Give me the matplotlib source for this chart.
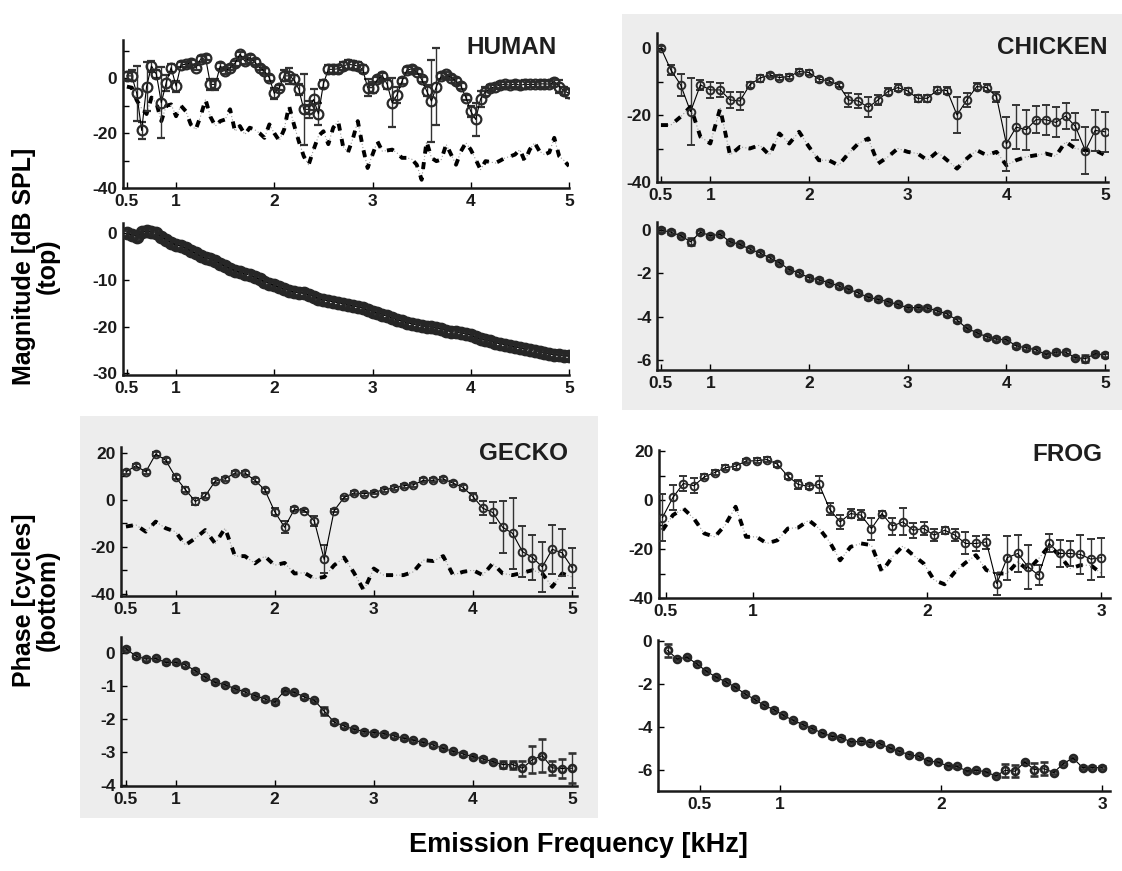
import numpy as np
import matplotlib
matplotlib.use("Agg")
import matplotlib.pyplot as plt
from matplotlib.patches import Rectangle

plt.rcParams['font.family'] = ['Liberation Sans', 'DejaVu Sans']
plt.rcParams['font.weight'] = 'bold'

# ---- HUMAN (0.5-5 kHz, 0.05 kHz steps) ----
human_f = np.linspace(0.5, 5.0, 91)
human_mag = [0.9, 0.9, -5.5, -19.0, -3.0, 4.5, 1.5, -8.9, -1.6, 3.9,
             -2.8, 5.0, 5.1, 5.7, 3.9, 7.0, 7.6, -2.2, -2.2, 4.5,
             2.7, 3.9, 5.5, 8.8, 6.3, 7.6, 6.0, 3.9, 2.7, 0.2,
             -5.5, -3.4, 0.9, 0.9, -0.4, -4.0, -11.3, -11.3, -7.7, -13.0,
             -2.0, 3.3, 3.3, 3.5, 4.5, 5.1, 4.9, 4.5, 3.3, -3.4,
             -3.4, -0.4, 0.9, -2.2, -8.9, -6.0, -1.0, 3.0, 3.5, 2.5,
             -0.4, -4.5, -8.3, -3.0, 0.9, 1.5, 0.3, -1.0, -2.8, -7.0,
             -12.0, -15.0, -7.5, -4.8, -3.6, -3.0, -2.4, -2.2, -2.5, -2.0,
             -2.5, -2.2, -2.2, -2.2, -2.0, -2.0, -2.1, -1.2, -3.0, -4.5,
             -5.5]
human_err = [1.5, 2, 10, 3, 9, 2, 1.5, 13, 3, 1.5,
             2, 1, 1, 1, 1, 1, 1, 2, 2, 1,
             1, 1, 1, 1, 1, 1, 1, 1, 1, 1,
             2, 1, 2, 3, 1.5, 2, 13, 3, 4, 4,
             1.5, 1.5, 1.5, 1.5, 1.5, 1.5, 1.5, 1.5, 1.5, 3,
             2, 1, 1, 1.5, 9, 3, 1, 1, 1, 1,
             1, 2, 15, 14, 1, 1, 1, 1, 1, 1,
             2, 6, 3, 1.5, 1, 1, 1, 1, 1, 1,
             1.5, 1.5, 1, 1, 1, 1, 1, 1, 2.5, 1.5,
             1.5]
human_noise = [-3, -3.4, -8, -11, -13, -7, -9, -15.6, -10, -9.5,
               -13.8, -10, -12, -16.8, -18.7, -13.8, -7.7, -14, -17.4, -15.6,
               -15, -11.3, -19.3, -17.4, -20.5, -18, -18.7, -20, -21.7, -16.8,
               -20, -22.7, -18.7, -10, -16.8, -23, -28.4, -31.5, -26, -21,
               -19.3, -24, -18, -15.6, -24.8, -27, -22, -15.6, -25, -32.7,
               -27.8, -23, -26.6, -26.3, -26, -27.2, -29, -29, -29.5, -31.5,
               -37, -23, -29, -30.2, -29.6, -24.1, -27.8, -31.5, -26.6, -23.5,
               -26, -29.6, -33.3, -30.2, -30.5, -30.9, -30, -29, -28.5, -27.8,
               -26, -30.2, -26, -23.5, -26.6, -27.8, -27, -21.7, -28.4, -30,
               -32]
human_phase = [0.0, -0.4, -0.7, 0.2, 0.4, 0.2, 0.0, -0.7, -1.4, -2.0,
               -2.5, -2.8, -3.2, -3.8, -4.3, -4.9, -5.4, -5.6, -5.9, -6.5,
               -7.1, -7.6, -8.0, -8.4, -8.7, -9.0, -9.4, -9.9, -10.4, -10.8,
               -11.2, -11.6, -12.0, -12.3, -12.6, -12.8, -12.9, -13.2, -13.6, -14.0,
               -14.3, -14.5, -14.7, -14.9, -15.1, -15.3, -15.6, -15.8, -16.1, -16.5,
               -16.8, -17.1, -17.5, -17.8, -18.2, -18.6, -18.9, -19.2, -19.4, -19.7,
               -19.9, -20.0, -20.1, -20.4, -20.6, -20.9, -21.1, -21.2, -21.4, -21.6,
               -21.9, -22.3, -22.7, -23.0, -23.2, -23.5, -23.7, -23.9, -24.1, -24.4,
               -24.6, -24.9, -25.1, -25.3, -25.5, -25.7, -25.9, -26.1, -26.2, -26.3,
               -26.4]
human_phase_err = [0.6] * 91

# ---- CHICKEN (0.5-5 kHz, 0.1 kHz steps) ----
chicken_f = np.linspace(0.5, 5.0, 46)
chicken_mag = [0, -6.5, -11, -19, -11, -12.5, -12.5, -15.5, -15.8, -11,
               -9, -8, -8.8, -8.5, -7, -7.3, -9.3, -9.8, -11, -15.5,
               -15.8, -17.7, -15.5, -13, -11.8, -12.8, -15, -15, -12.5, -12.7,
               -20, -15.5, -11.5, -11.8, -14.5, -28.6, -23.6, -24.4, -21.4, -21.4,
               -22.2, -20.3, -23.4, -30.6, -24.6, -25]
chicken_err = [0.5, 1.5, 3.2, 10, 1.5, 2.5, 2, 2.5, 2.8, 1,
               1, 0.7, 0.7, 0.7, 0.7, 0.7, 0.7, 0.7, 0.7, 2,
               2, 3, 1.5, 1, 1, 1, 1, 1, 1, 1,
               5.3, 2, 1, 1, 1.5, 8, 6.5, 6, 4, 4.5,
               4.5, 4, 4, 7, 6, 6]
chicken_noise = [-23, -23, -20.5, -17.5, -26.5, -28.5, -18, -32, -29.5, -30,
                 -29, -32, -25.5, -28.5, -25, -29.5, -33.5, -33.5, -35, -31.5,
                 -28.5, -27, -34.5, -32.5, -30, -31, -31.5, -33.5, -31, -33.5,
                 -36, -33, -30.5, -32, -31, -35, -33.5, -32.5, -32, -31.5,
                 -32.3, -28, -30, -30.5, -30.5, -32]
chicken_phase = [0.0, -0.1, -0.26, -0.54, -0.1, -0.26, -0.2, -0.54, -0.66, -0.88,
                 -1.05, -1.28, -1.5, -1.82, -1.98, -2.2, -2.3, -2.42, -2.58, -2.73,
                 -2.9, -3.1, -3.2, -3.3, -3.43, -3.58, -3.57, -3.6, -3.73, -3.87,
                 -4.15, -4.53, -4.73, -4.92, -5.03, -5.05, -5.34, -5.43, -5.52, -5.73,
                 -5.63, -5.63, -5.88, -5.93, -5.7, -5.75]
chicken_phase_err = [0.08, 0.08, 0.08, 0.15, 0.08, 0.08, 0.08, 0.08, 0.08, 0.08,
                     0.08, 0.08, 0.08, 0.08, 0.08, 0.08, 0.08, 0.08, 0.08, 0.08,
                     0.08, 0.08, 0.08, 0.08, 0.08, 0.08, 0.08, 0.08, 0.08, 0.08,
                     0.08, 0.08, 0.08, 0.08, 0.08, 0.08, 0.08, 0.08, 0.08, 0.08,
                     0.08, 0.08, 0.08, 0.15, 0.08, 0.08]

# ---- GECKO (0.5-5 kHz, 0.1 kHz steps) ----
gecko_f = np.linspace(0.5, 5.0, 46)
gecko_mag = [11.9, 14.5, 11.9, 19.5, 16.9, 9.7, 4.3, -0.7, 1.7, 7.9,
             9, 11.4, 11.4, 8.3, 4.3, -5, -11.7, -4, -4.6, -9,
             -25.4, -4.6, 1, 2.9, 2.6, 3.1, 4.3, 5, 6, 6.4,
             8.3, 8.3, 8.9, 7.1, 5.3, 1.4, -3.6, -5.4, -11.7, -14.3,
             -22.1, -24.6, -28.6, -21.1, -22.6, -28.9]
gecko_err = [1, 0.8, 0.8, 0.8, 0.8, 0.8, 1, 1.5, 1, 0.8,
             0.8, 0.8, 0.8, 0.8, 0.8, 1.5, 2.5, 0.8, 0.8, 2,
             6, 0.8, 0.8, 0.8, 0.8, 0.8, 0.8, 0.8, 0.8, 0.8,
             0.8, 0.8, 0.8, 0.8, 1, 1.5, 2.9, 4.6, 11, 15,
             11, 9.5, 10.5, 10.5, 10, 8.5]
gecko_noise = [-11.4, -10.7, -13.6, -9.3, -12.1, -13.6, -19.3, -16.4, -12.9, -18.6,
               -12.1, -24, -24, -27.1, -24, -27.9, -26.9, -31.4, -31.1, -33.6,
               -32.9, -27.9, -24.6, -31.1, -38.6, -29.3, -32.1, -32.1, -32.1, -30.7,
               -25.7, -26.1, -24, -32.1, -30.7, -30, -32.1, -27.1, -31.4, -32.1,
               -31.1, -30, -31.4, -37.1, -31.4, -32.9]
gecko_phase = [0.15, -0.08, -0.17, -0.15, -0.27, -0.27, -0.35, -0.52, -0.72, -0.88,
               -0.95, -1.07, -1.17, -1.28, -1.38, -1.48, -1.13, -1.18, -1.32, -1.42,
               -1.75, -2.08, -2.2, -2.3, -2.37, -2.4, -2.43, -2.5, -2.57, -2.63,
               -2.7, -2.78, -2.88, -2.97, -3.05, -3.13, -3.2, -3.28, -3.37, -3.37,
               -3.48, -3.22, -3.1, -3.47, -3.49, -3.48]
gecko_phase_err = [0.05, 0.05, 0.05, 0.05, 0.05, 0.05, 0.05, 0.05, 0.05, 0.05,
                   0.05, 0.05, 0.05, 0.05, 0.05, 0.05, 0.05, 0.05, 0.05, 0.05,
                   0.13, 0.05, 0.05, 0.05, 0.05, 0.05, 0.05, 0.05, 0.05, 0.05,
                   0.05, 0.05, 0.05, 0.05, 0.05, 0.05, 0.05, 0.05, 0.1, 0.12,
                   0.23, 0.42, 0.5, 0.22, 0.3, 0.45]

# ---- FROG (0.06 kHz steps) ----
frog_f = np.linspace(0.48, 3.0, 43)
frog_mag = [-7.1, 1.1, 6.8, 5.9, 9.5, 11.3, 13.2, 13.9, 16, 16.1,
            16.6, 14.7, 9.8, 6.4, 5.7, 6.4, -3.7, -8.9, -5.5, -6.1,
            -11.6, -5.5, -10.6, -8.9, -12.3, -11.6, -14.3, -12.3, -14.3, -17.7,
            -17.7, -17.1, -34.1, -23.5, -21.8, -27.3, -30.7, -17.7, -21.8, -21.8,
            -22.2, -24.1, -23.5]
frog_err = [9.5, 5, 3, 3, 1, 1, 1, 1, 1, 1,
            1, 1, 1, 2, 1, 3.5, 2.5, 3, 2, 2,
            4.5, 1, 3.5, 5.5, 3, 2.5, 2.5, 1.5, 2.5, 4.5,
            3, 3, 4.5, 9, 7.5, 9, 4, 3.7, 5.5, 5,
            8, 8.4, 8]
frog_noise = [-12.3, -6.1, -3.4, -7.5, -13.6, -15, -10.2, -2.7, -15, -15,
              -17.7, -16.4, -11.6, -11.2, -8.2, -11.6, -17.1, -24.6, -19.1, -17.7,
              -18.4, -29.3, -23.2, -18.8, -22.5, -25.9, -32.7, -34.4, -29.3, -25.6,
              -22.5, -28.6, -30, -30, -25.2, -28.6, -23.9, -18.8, -22.5, -28,
              -26.6, -26.6, -30]
frog_phase_f = np.linspace(0.3, 3.0, 46)
frog_phase = [-0.44, -0.84, -0.75, -1.06, -1.4, -1.68, -1.9, -2.15, -2.46, -2.72,
              -3.0, -3.2, -3.47, -3.7, -3.9, -4.09, -4.29, -4.45, -4.51, -4.71,
              -4.68, -4.74, -4.79, -4.99, -5.15, -5.3, -5.38, -5.6, -5.65, -5.83,
              -5.85, -6.07, -6.03, -6.11, -6.3, -6.03, -6.08, -5.65, -6.0, -5.96,
              -6.14, -5.72, -5.46, -5.91, -5.91, -5.91]
frog_phase_err = [0.3, 0.06, 0.06, 0.06, 0.06, 0.06, 0.06, 0.06, 0.06, 0.06,
                  0.06, 0.06, 0.06, 0.06, 0.06, 0.06, 0.06, 0.06, 0.06, 0.06,
                  0.06, 0.06, 0.06, 0.06, 0.06, 0.06, 0.06, 0.06, 0.06, 0.06,
                  0.06, 0.06, 0.06, 0.06, 0.06, 0.3, 0.28, 0.06, 0.3, 0.3,
                  0.06, 0.06, 0.06, 0.06, 0.06, 0.06]

W, H = 1122, 871
fig = plt.figure(figsize=(W / 100, H / 100), dpi=100)

# grey backdrop behind chicken and gecko panels
for (x0, y0, x1, y1) in [(622, 14, 1122, 410), (80, 416, 598, 818)]:
    fig.add_artist(Rectangle((x0 / W, 1 - y1 / H), (x1 - x0) / W, (y1 - y0) / H,
                             transform=fig.transFigure, color='#ededed', zorder=-5, lw=0))


def add_ax(l, t, r, b):
    ax = fig.add_axes([l / W, 1 - b / H, (r - l) / W, (b - t) / H])
    ax.set_facecolor('none')
    for s in ['top', 'right']:
        ax.spines[s].set_visible(False)
    for s in ['left', 'bottom']:
        ax.spines[s].set_linewidth(1.8)
        ax.spines[s].set_color('#1a1a1a')
    ax.tick_params(direction='in', length=4, width=1, labelsize=12.5, pad=4,
                   labelcolor='#1a1a1a')
    return ax


def style(ax, xlim, xticks, ylim, yticks, ylabs):
    ax.set_xlim(*xlim)
    ax.set_ylim(*ylim)
    ax.set_xticks(xticks, [('%g' % t) for t in xticks], fontweight='bold')
    ax.set_yticks(yticks, ylabs, fontweight='bold')


def mag_plot(ax, f, m, e, nf, ms=5.5, mew=1.4):
    ax.plot(f, nf, color='#9a9a9a', lw=0.8, ls=(0, (1, 2)), zorder=2)
    ax.plot(f, nf, color='k', lw=2.8, ls=(0, (1.8, 2.2)), zorder=2)
    ax.errorbar(f, m, yerr=e, fmt='-o', color='k', lw=0.8, ms=ms, mfc='none',
                mec='#2a2a2a', mew=mew, ecolor='#333333', elinewidth=1,
                capsize=3, capthick=1, zorder=3)


def ph_plot(ax, f, p, e, ms=5, mew=1.9):
    ax.errorbar(f, p, yerr=e, fmt='-o', color='k', lw=0.8, ms=ms, mfc='none',
                mec='#262626', mew=mew, ecolor='#333333', elinewidth=1,
                capsize=3, capthick=1, zorder=3)


xt5 = [0.5, 1, 2, 3, 4, 5]
xt3 = [0.5, 1, 2, 3]
mag_ticks = [-40, -30, -20, -10, 0, 10, 20]
mag_labs = ['-40', '', '-20', '', '0', '', '20']

# HUMAN
ax = add_ax(123, 40, 569, 188)
mag_plot(ax, human_f, human_mag, human_err, human_noise, ms=7, mew=1.6)
style(ax, (0.46, 5.0), xt5, (-40, 14), mag_ticks[:-1], mag_labs[:-1])
ax = add_ax(123, 223, 569, 375)
ph_plot(ax, human_f, human_phase, human_phase_err, ms=7.5, mew=2.4)
style(ax, (0.46, 5.0), xt5, (-30.4, 2.2), [-30, -20, -10, 0], ['-30', '-20', '-10', '0'])

# CHICKEN
ax = add_ax(657, 33, 1108, 182)
mag_plot(ax, chicken_f, chicken_mag, chicken_err, chicken_noise)
style(ax, (0.46, 5.03), xt5, (-40, 4.5), mag_ticks[:-2], mag_labs[:-2])
ax = add_ax(657, 222, 1108, 370)
ph_plot(ax, chicken_f, chicken_phase, chicken_phase_err)
style(ax, (0.46, 5.03), xt5, (-6.45, 0.37), [-6, -4, -2, 0], ['-6', '-4', '-2', '0'])

# GECKO
ax = add_ax(121, 447, 577, 596)
mag_plot(ax, gecko_f, gecko_mag, gecko_err, gecko_noise)
style(ax, (0.45, 5.05), xt5, (-41, 22.5), mag_ticks, mag_labs)
ax = add_ax(121, 637, 577, 786)
ph_plot(ax, gecko_f, gecko_phase, gecko_phase_err)
style(ax, (0.45, 5.05), xt5, (-4.02, 0.5), [-4, -3, -2, -1, 0], ['-4', '-3', '-2', '-1', '0'])

# FROG
ax = add_ax(659, 450, 1110, 598)
mag_plot(ax, frog_f, frog_mag, frog_err, frog_noise)
style(ax, (0.46, 3.05), xt3, (-40, 20.5), mag_ticks, mag_labs)
ax = add_ax(658, 640, 1110, 791)
ph_plot(ax, frog_phase_f, frog_phase, frog_phase_err)
style(ax, (0.24, 3.05), xt3, (-7.0, 0.05), [-6, -4, -2, 0], ['-6', '-4', '-2', '0'])

# panel names
for name, x, y in [('HUMAN', 557, 47), ('CHICKEN', 1108, 47), ('GECKO', 568, 453), ('FROG', 1102, 454)]:
    fig.text(x / W, 1 - y / H, name, ha='right', va='center', fontsize=17.5,
             fontweight='bold', color='#1e1e1e')

fig.text(36 / W, 1 - 266 / H, 'Magnitude [dB SPL]\n(top)', rotation=90, ha='center',
         va='center', fontsize=18, fontweight='bold', multialignment='center', linespacing=1.0)
fig.text(36 / W, 1 - 600 / H, 'Phase [cycles]\n(bottom)', rotation=90, ha='center',
         va='center', fontsize=18, fontweight='bold', multialignment='center', linespacing=1.0)
fig.text(578 / W, 1 - 845 / H, 'Emission Frequency [kHz]', ha='center', va='center',
         fontsize=19.5, fontweight='bold')

fig.savefig('out.png', dpi=100)
